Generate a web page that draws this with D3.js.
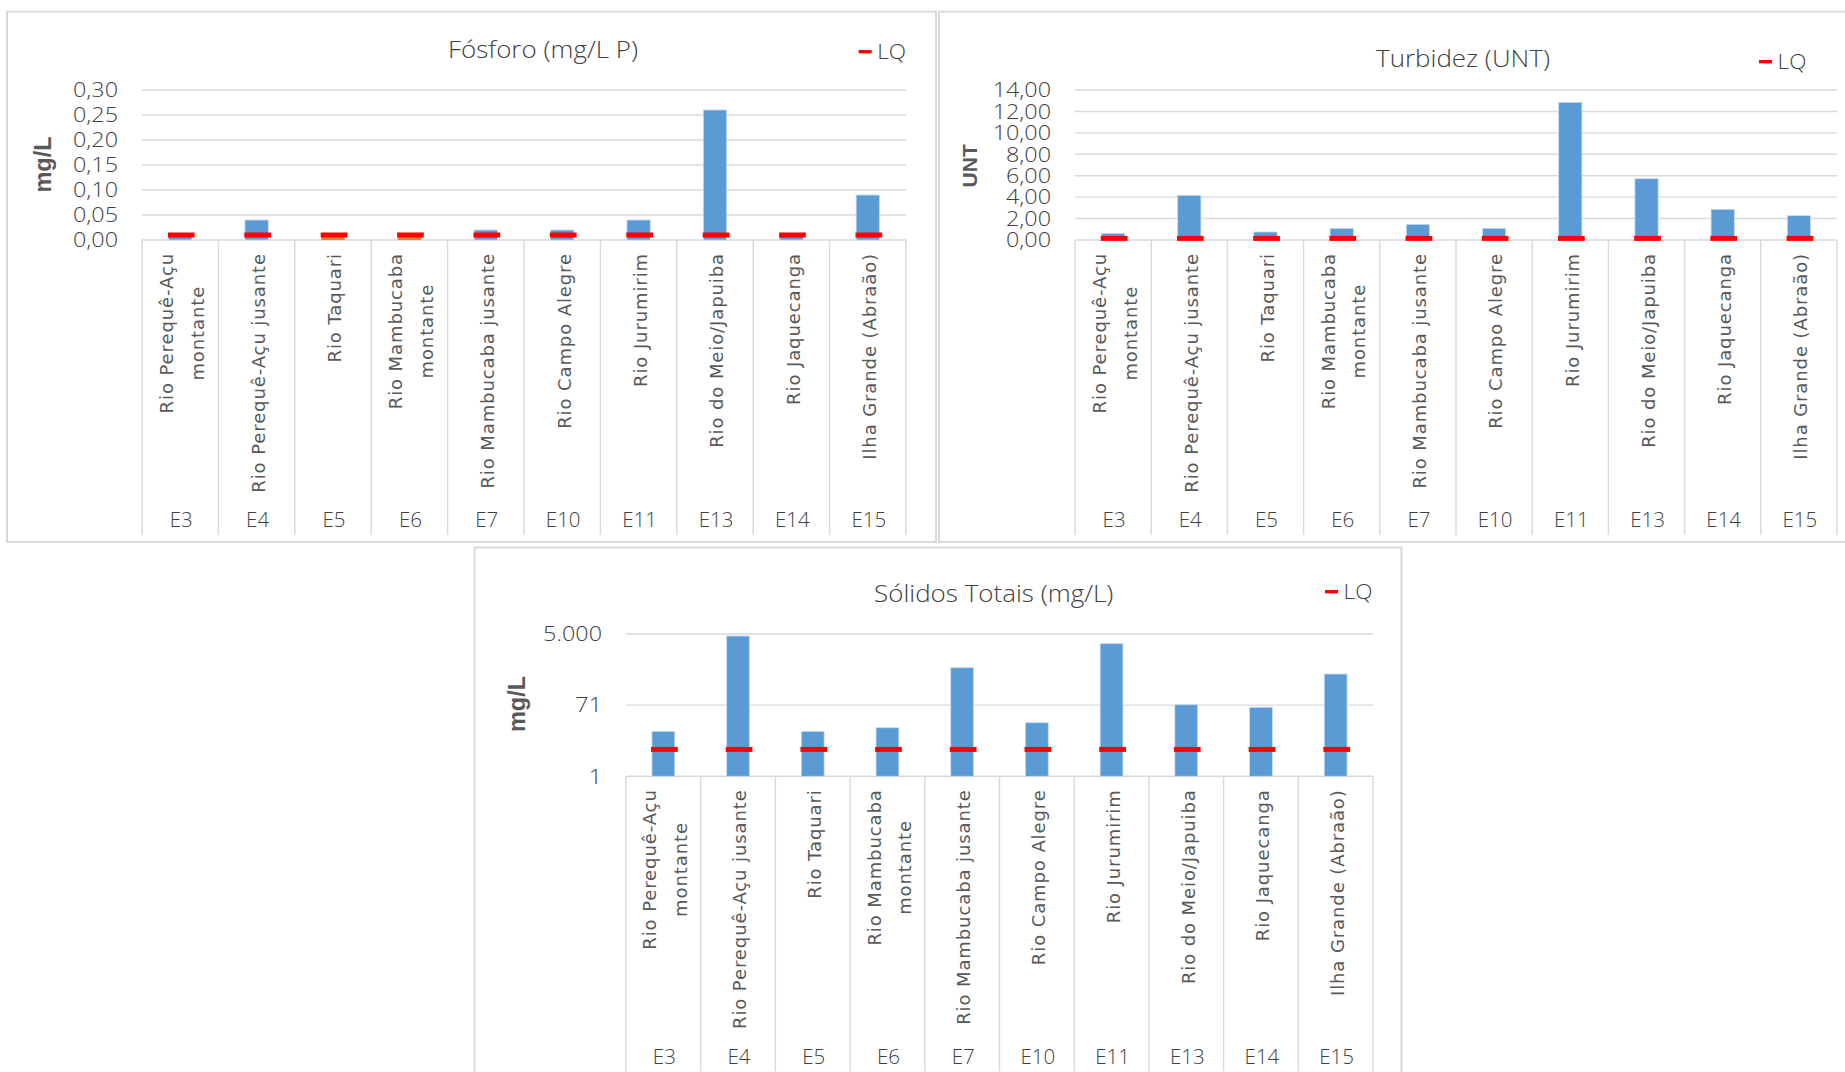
<!DOCTYPE html>
<html><head><meta charset="utf-8">
<script src="https://cdn.jsdelivr.net/npm/d3@7"></script>
<style>
html,body{margin:0;padding:0;background:#fff;}
svg{display:block;}
</style></head><body>
<svg id="c" width="1845" height="1072"></svg>
<script>
// ---------- DATA ----------
const stations = ["E3","E4","E5","E6","E7","E10","E11","E13","E14","E15"];
const siteLines = [
  ["Rio Perequê-Açu","montante"],
  ["Rio Perequê-Açu jusante"],
  ["Rio Taquari"],
  ["Rio Mambucaba","montante"],
  ["Rio Mambucaba jusante"],
  ["Rio Campo Alegre"],
  ["Rio Jurumirim"],
  ["Rio do Meio/Japuiba"],
  ["Rio Jaquecanga"],
  ["Ilha Grande (Abraão)"]
];
const fosforoValues  = [0.01, 0.04, null, null, 0.02, 0.02, 0.04, 0.26, 0.01, 0.09];
const fosforoBelowLQ = [null, null, 0.01, 0.01, null, null, null, null, null, null];
const fosforoLQ      = [0.01, 0.01, 0.01, 0.01, 0.01, 0.01, 0.01, 0.01, 0.01, 0.01];
const fosforoTicks   = [0, 0.05, 0.10, 0.15, 0.20, 0.25, 0.30];

const turbidezValues = [0.62, 4.17, 0.75, 1.09, 1.46, 1.09, 12.85, 5.72, 2.86, 2.27];
const turbidezLQ     = [0.15, 0.15, 0.15, 0.15, 0.15, 0.15, 0.15, 0.15, 0.15, 0.15];
const turbidezTicks  = [0, 2, 4, 6, 8, 10, 12, 14];

const solidosValues  = [14.7, 4436, 14.7, 18.3, 665, 24.7, 2800, 72.6, 62.2, 456];
const solidosLQ      = [5, 5, 5, 5, 5, 5, 5, 5, 5, 5];
const solidosTicks   = [1, 70.71, 5000];
const solidosTickLabels = ["1", "71", "5.000"];

// ---------- STYLE ----------
const GRID = "#d9d9d9", TXT = "#595959", BLUE = "#5b9bd5", ORANGE = "#ed7d31", RED = "#ff0000";
const HFONT = "'Open Sans','Liberation Sans',Arial,sans-serif";
const CFONT = "'DejaVu Sans',Verdana,sans-serif";
const BFONT = "'Liberation Sans',Arial,sans-serif";

const ptBR = d3.formatLocale({decimal: ",", thousands: ".", grouping: [3], currency: ["R$", ""]});
const fmt2 = ptBR.format(",.2f");

const svg = d3.select("#c");
svg.append("rect").attr("width", 1845).attr("height", 1072).attr("fill", "#fff");

function hText(parent, x, y, str, o) {
  const g = parent.append("g").attr("transform", `translate(${x},${y}) scale(${o.k || 1},1)`);
  return g.append("text")
    .attr("text-anchor", o.anchor || "start")
    .attr("dy", o.dy || 0)
    .attr("font-family", o.family || HFONT)
    .attr("font-size", o.size)
    .attr("font-weight", o.weight || 300)
    .attr("fill", o.fill || "#404040")
    .text(str);
}

const charts = [
  { box: [7, 11.7, 936, 542], plot: {l: 142, r: 906, t: 90, b: 240},
    title: {text: "Fósforo (mg/L P)", x: 543, y: 58.3}, legend: {x: 858.7, y: 51.7},
    ytitle: {text: "mg/L", x: 51, y: 164.5, size: 23.5},
    type: "linear", domain: [0, 0.30], ticks: fosforoTicks, labels: fosforoTicks.map(fmt2),
    values: fosforoValues, below: fosforoBelowLQ, lq: fosforoLQ },
  { box: [939, 11.7, 1852, 542], plot: {l: 1075, r: 1837, t: 90, b: 240},
    title: {text: "Turbidez (UNT)", x: 1463, y: 66.7}, legend: {x: 1759, y: 61.7},
    ytitle: {text: "UNT", x: 977, y: 165.8, size: 21},
    type: "linear", domain: [0, 14], ticks: turbidezTicks, labels: turbidezTicks.map(fmt2),
    values: turbidezValues, below: null, lq: turbidezLQ },
  { box: [474.5, 547.5, 1401.5, 1085], plot: {l: 626, r: 1373, t: 634, b: 776.3},
    title: {text: "Sólidos Totais (mg/L)", x: 993.7, y: 601.7}, legend: {x: 1325, y: 591.7},
    ytitle: {text: "mg/L", x: 525, y: 704, size: 23.5},
    type: "log", domain: [1, 5000], ticks: solidosTicks, labels: solidosTickLabels,
    values: solidosValues, below: null, lq: solidosLQ }
];

charts.forEach(ch => {
  const g = svg.append("g");
  const P = ch.plot;
  // frame
  g.append("rect").attr("x", ch.box[0]).attr("y", ch.box[1])
    .attr("width", ch.box[2] - ch.box[0]).attr("height", ch.box[3] - ch.box[1])
    .attr("fill", "#fff").attr("stroke", GRID).attr("stroke-width", 2);

  const x = d3.scaleBand().domain(stations).range([P.l, P.r]).paddingInner(0).paddingOuter(0);
  const y = (ch.type === "log" ? d3.scaleLog() : d3.scaleLinear()).domain(ch.domain).range([P.b, P.t]);
  const bw = x.bandwidth();
  const barW = bw * 0.305;
  const base = y(ch.domain[0]);

  // gridlines
  g.selectAll(".grid").data(ch.ticks).join("line")
    .attr("x1", P.l).attr("x2", P.r)
    .attr("y1", d => y(d)).attr("y2", d => y(d))
    .attr("stroke", GRID).attr("stroke-width", 1.4);

  // y tick labels
  ch.ticks.forEach((t, i) => {
    hText(g, P.l - 24, y(t), ch.labels[i], {size: 20.5, anchor: "end", k: 1.14, dy: "0.357em"});
  });

  // category separators
  const bounds = stations.map(s => x(s)).concat([P.r]);
  g.selectAll(".sep").data(bounds).join("line")
    .attr("x1", d => d).attr("x2", d => d)
    .attr("y1", base).attr("y2", base + 295)
    .attr("stroke", GRID).attr("stroke-width", 1.4);

  // bars
  const bars = stations.map((s, i) => ({s, v: ch.values[i]})).filter(d => d.v != null);
  g.selectAll(".bar").data(bars).join("rect")
    .attr("x", d => x(d.s) + bw / 2 - barW / 2).attr("width", barW)
    .attr("y", d => y(d.v)).attr("height", d => base - y(d.v))
    .attr("fill", BLUE).attr("stroke", "#c6dbef").attr("stroke-width", 0.8);
  if (ch.below) {
    const ob = stations.map((s, i) => ({s, v: ch.below[i]})).filter(d => d.v != null);
    g.selectAll(".obar").data(ob).join("rect")
      .attr("x", d => x(d.s) + bw / 2 - barW / 2).attr("width", barW)
      .attr("y", d => y(d.v)).attr("height", d => base - y(d.v))
      .attr("fill", ORANGE);
  }
  // LQ markers
  const lq = stations.map((s, i) => ({s, v: ch.lq[i]}));
  g.selectAll(".lq").data(lq).join("rect")
    .attr("x", d => x(d.s) + bw / 2 - 12.3).attr("width", 26.7)
    .attr("y", d => y(d.v) - 2.5).attr("height", 5)
    .attr("fill", RED);

  // category labels (rotated)
  stations.forEach((s, i) => {
    const c = x(s) + bw / 2;
    const lines = siteLines[i];
    const n = lines.length;
    const texts = lines.map((ln, j) => {
      const off = (j - (n - 1) / 2) * 30.5 + 2;
      const tg = g.append("g").attr("transform", `translate(${c + off},0) rotate(-90)`);
      const t = tg.append("text").attr("text-anchor", "middle").attr("dy", "0.35em")
        .attr("font-family", CFONT).attr("font-size", 18).attr("letter-spacing", 0.9)
        .attr("fill", TXT).text(ln);
      return {tg, t, off};
    });
    const maxLen = d3.max(texts, d => d.t.node().getComputedTextLength());
    texts.forEach(d => {
      d.tg.attr("transform", `translate(${c + d.off},${base + 13 + maxLen / 2}) rotate(-90)`);
    });
    // station code
    hText(g, c + 1, base + 287.3, s, {size: 20.5, anchor: "middle"});
  });

  // title
  hText(g, ch.title.x, ch.title.y, ch.title.text, {size: 24.5, anchor: "middle", k: 1.06});
  // legend
  g.append("rect").attr("x", ch.legend.x).attr("y", ch.legend.y - 1.7)
    .attr("width", 13).attr("height", 3.4).attr("fill", RED);
  hText(g, ch.legend.x + 18.6, ch.legend.y + 7.6, "LQ", {size: 20.5, k: 1.1});

  // y title
  g.append("g").attr("transform", `translate(${ch.ytitle.x},${ch.ytitle.y}) rotate(-90)`)
    .append("text").attr("text-anchor", "middle")
    .attr("font-family", BFONT).attr("font-weight", 700).attr("font-size", ch.ytitle.size)
    .attr("fill", TXT).text(ch.ytitle.text);
});
</script>
</body></html>
